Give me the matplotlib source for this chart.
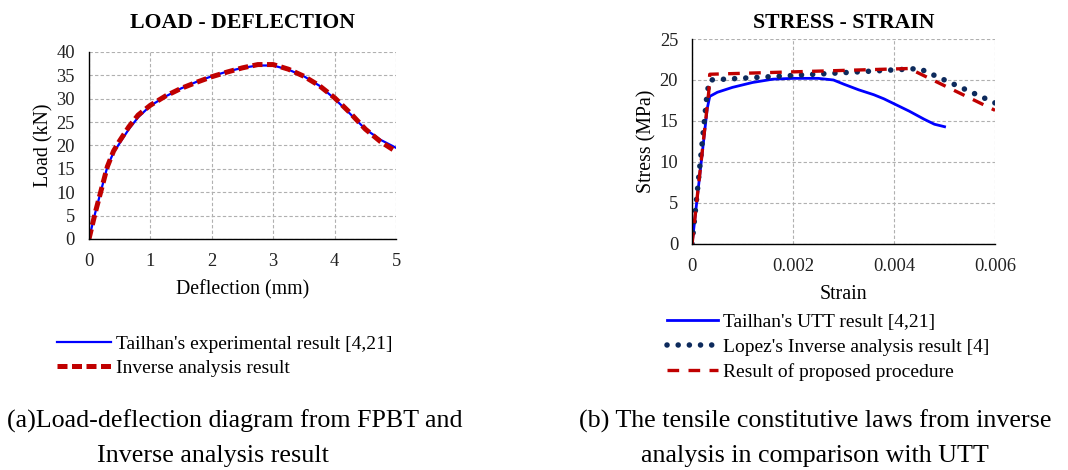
import matplotlib
matplotlib.use("Agg")
import matplotlib.pyplot as plt

plt.rcParams['font.family'] = ['Liberation Serif', 'DejaVu Serif']

# ---- Load - deflection data ----
defl_exp = [0, 0.1, 0.2, 0.3, 0.4, 0.5, 0.65, 0.8, 1.0, 1.25, 1.5, 1.75, 2.0, 2.25, 2.5, 2.75, 3.0, 3.25, 3.5, 3.75, 4.0, 4.25, 4.5, 4.75, 5.0]
load_exp = [0, 5.5, 10.5, 15.5, 18.5, 20.5, 23.5, 26, 28.5, 30.5, 32.2, 33.6, 34.8, 35.8, 36.6, 37.1, 37.1, 36.2, 34.8, 32.8, 30, 26.8, 23.5, 21.2, 19.5]
defl_inv = [0, 0.1, 0.2, 0.3, 0.4, 0.5, 0.65, 0.8, 1.0, 1.25, 1.5, 1.75, 2.0, 2.25, 2.5, 2.75, 3.0, 3.25, 3.5, 3.75, 4.0, 4.25, 4.5, 4.75, 5.0]
load_inv = [0, 5.5, 10.5, 15.5, 18.8, 21, 24, 26.5, 28.6, 30.6, 32.2, 33.5, 34.7, 35.7, 36.6, 37.3, 37.3, 36.3, 34.8, 32.8, 30.2, 27.0, 23.5, 20.8, 18.7]

# ---- Stress - strain data ----
strain_utt = [0, 0.0001, 0.0002, 0.0003, 0.00035, 0.0005, 0.0008, 0.0012, 0.0016, 0.002, 0.0025, 0.0028, 0.003, 0.0033, 0.0036, 0.0038, 0.004, 0.0043, 0.0046, 0.0048, 0.005]
stress_utt = [0, 5.5, 11, 16.5, 18.0, 18.5, 19.1, 19.7, 20.1, 20.2, 20.2, 20.0, 19.5, 18.8, 18.2, 17.7, 17.1, 16.2, 15.2, 14.6, 14.3]
strain_lopez = [0, 0.0003, 0.00035, 0.0045, 0.006]
stress_lopez = [0, 18.5, 20.0, 21.4, 17.2]
strain_prop = [0, 0.00033, 0.00035, 0.0043, 0.006]
stress_prop = [0, 18.5, 20.7, 21.4, 16.3]

fig = plt.figure(figsize=(10.68, 4.70), dpi=100)

def style_axes(ax):
    ax.grid(True, color='#b0b0b0', linestyle=(0, (3, 2)), linewidth=0.8)
    ax.set_axisbelow(True)
    for s in ['top', 'right']:
        ax.spines[s].set_visible(False)
    for s in ['left', 'bottom']:
        ax.spines[s].set_color('black')
        ax.spines[s].set_linewidth(1.0)
    ax.tick_params(length=0, labelsize=13.3, colors='#222222')
    ax.tick_params(axis='x', pad=10)
    ax.tick_params(axis='y', pad=10)

# Left chart
ax1 = fig.add_axes([0.0833, 0.4915, 0.2875, 0.398])
ax1.plot(defl_exp, load_exp, color='#0000ff', lw=1.6, label="Tailhan's experimental result [4,21]")
ax1.plot(defl_inv, load_inv, color='#c00000', lw=3.6, linestyle=(0, (2.0, 0.9)), label='Inverse analysis result')
ax1.set_xlim(0, 5)
ax1.set_ylim(0, 40)
ax1.set_xticks(range(0, 6))
ax1.set_yticks(range(0, 45, 5))
style_axes(ax1)
ax1.set_title('LOAD - DEFLECTION', fontsize=15.7, fontweight='bold', pad=17)
ax1.set_xlabel('Deflection (mm)', fontsize=14.3, labelpad=7)
ax1.set_ylabel('Load (kN)', fontsize=14.3, labelpad=2)
fig.legend(handles=ax1.get_lines(), loc='upper left', bbox_to_anchor=(0.0534, 0.2872),
           frameon=False, fontsize=14, handlelength=2.75, handletextpad=0.3,
           labelspacing=0.35, borderpad=0, borderaxespad=0)

# Right chart
ax2 = fig.add_axes([0.648, 0.481, 0.2837, 0.436])
ax2.plot(strain_utt, stress_utt, color='#0000ff', lw=2, label="Tailhan's UTT result [4,21]")
ax2.plot(strain_lopez, stress_lopez, color='#0d2a5c', lw=4, linestyle=(0, (0.01, 2.0)),
         dash_capstyle='round', label="Lopez's Inverse analysis result [4]")
ax2.plot(strain_prop, stress_prop, color='#c00000', lw=2.4, linestyle=(0, (3.5, 2.8)),
         label='Result of proposed procedure')
ax2.set_xlim(0, 0.006)
ax2.set_ylim(0, 25)
ax2.set_xticks([0, 0.002, 0.004, 0.006])
ax2.set_xticklabels(['0', '0.002', '0.004', '0.006'])
ax2.set_yticks(range(0, 30, 5))
style_axes(ax2)
ax2.set_title('STRESS - STRAIN', fontsize=15.7, fontweight='bold', pad=8)
ax2.set_xlabel('Strain', fontsize=14.3, labelpad=7)
ax2.set_ylabel('Stress (MPa)', fontsize=14.3, labelpad=2)
fig.legend(handles=ax2.get_lines(), loc='upper left', bbox_to_anchor=(0.6245, 0.334),
           frameon=False, fontsize=14, handlelength=2.6, handletextpad=0.3,
           labelspacing=0.38, borderpad=0, borderaxespad=0)

# Captions
fig.text(0.220, 1 - 428 / 470, '(a)Load-deflection diagram from FPBT and',
         ha='center', va='baseline', fontsize=18.75)
fig.text(0.1995, 1 - 462 / 470, 'Inverse analysis result',
         ha='center', va='baseline', fontsize=18.75)
fig.text(0.763, 1 - 428 / 470, '(b) The tensile constitutive laws from inverse',
         ha='center', va='baseline', fontsize=18.75)
fig.text(0.763, 1 - 462 / 470, 'analysis in comparison with UTT',
         ha='center', va='baseline', fontsize=18.75)

fig.savefig('out.png', dpi=100)
